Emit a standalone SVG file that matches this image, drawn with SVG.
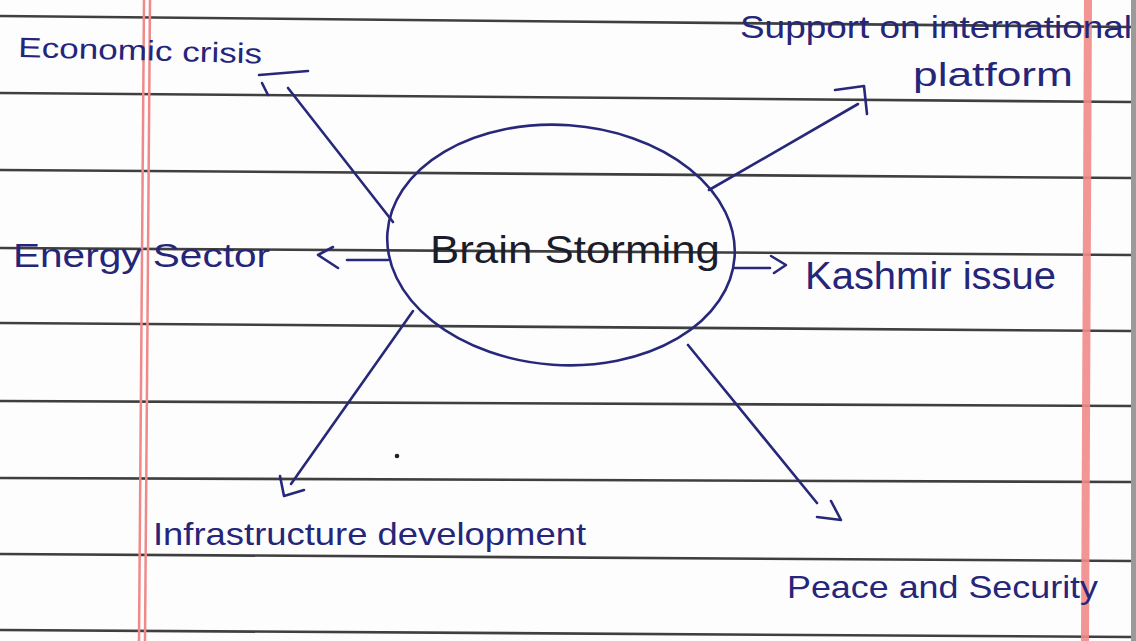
<svg xmlns="http://www.w3.org/2000/svg" width="1136" height="641" viewBox="0 0 1136 641">
<style>
.rule{stroke:#3f3f3f;stroke-width:2.6;fill:none}
.margin{stroke:#f08a8a;fill:none}
.ink{stroke:#28287a;stroke-width:2.6;fill:none;stroke-linecap:round;stroke-linejoin:round}
.lbl{font-family:"Liberation Sans","DejaVu Sans",sans-serif;fill:#25257a}
.center{font-family:"Liberation Sans","DejaVu Sans",sans-serif;fill:#1c1c2a}
</style>
<rect width="1136" height="641" fill="#fdfdfd"/>
<g id="paper">
<line class="rule" x1="0" y1="16" x2="1132" y2="27"/>
<line class="rule" x1="0" y1="93" x2="1132" y2="102"/>
<line class="rule" x1="0" y1="170" x2="1132" y2="178"/>
<line class="rule" x1="0" y1="248" x2="1132" y2="255"/>
<line class="rule" x1="0" y1="323" x2="1132" y2="331"/>
<line class="rule" x1="0" y1="401" x2="1132" y2="406"/>
<line class="rule" x1="0" y1="478" x2="1132" y2="482"/>
<line class="rule" x1="0" y1="554" x2="1132" y2="561"/>
<line class="rule" x1="0" y1="630" x2="1132" y2="637"/>
<line class="margin" x1="144" y1="0" x2="139" y2="641" stroke-width="2.5"/>
<line class="margin" x1="150" y1="0" x2="145" y2="641" stroke-width="2.5"/>
<line class="margin" x1="1088" y1="0" x2="1085" y2="641" stroke-width="8" opacity="0.9"/>
<rect x="1131" y="0" width="5" height="641" fill="#9a9a9a"/>
<circle cx="397" cy="456" r="2.3" fill="#222"/>
</g>
<g id="connectors">
<line class="ink" x1="393" y1="222" x2="288" y2="88"/>
<path class="ink" d="M259,75 L308,71 M262,83 L268,95"/>
<line class="ink" x1="709" y1="190" x2="858" y2="104"/>
<path class="ink" d="M835,90 L864,86 L867,114"/>
<line class="ink" x1="388" y1="260" x2="347" y2="260"/>
<polyline class="ink" points="333,247 318,255 338,268"/>
<line class="ink" x1="735" y1="268" x2="770" y2="268"/>
<polyline class="ink" points="771,256 786,265 774,273"/>
<line class="ink" x1="413" y1="311" x2="291" y2="484"/>
<polyline class="ink" points="280,476 284,496 304,490"/>
<line class="ink" x1="688" y1="345" x2="817" y2="503"/>
<polyline class="ink" points="831,501 841,520 817,517"/>
</g>
<g id="brain-storming">
<ellipse class="ink" cx="561" cy="245" rx="174" ry="120" transform="rotate(4 561 245)"/>
<text class="center" x="430" y="263" font-size="38" textLength="290" lengthAdjust="spacingAndGlyphs">Brain Storming</text>
</g>
<g id="economic-crisis">
<text class="lbl" x="18" y="57" font-size="28" textLength="244" lengthAdjust="spacingAndGlyphs" transform="rotate(1.5 18 57)">Economic crisis</text>
</g>
<g id="support">
<text class="lbl" x="740" y="38" font-size="32" textLength="392" lengthAdjust="spacingAndGlyphs">Support on international</text>
<text class="lbl" x="913" y="86" font-size="34" textLength="160" lengthAdjust="spacingAndGlyphs">platform</text>
</g>
<g id="energy-sector">
<text class="lbl" x="13" y="267" font-size="34" textLength="257" lengthAdjust="spacingAndGlyphs">Energy Sector</text>
</g>
<g id="kashmir-issue">
<text class="lbl" x="805" y="289" font-size="38" textLength="251" lengthAdjust="spacingAndGlyphs">Kashmir issue</text>
</g>
<g id="infrastructure">
<text class="lbl" x="153" y="545" font-size="32" textLength="433" lengthAdjust="spacingAndGlyphs">Infrastructure development</text>
</g>
<g id="peace-security">
<text class="lbl" x="787" y="598" font-size="32" textLength="311" lengthAdjust="spacingAndGlyphs">Peace and Security</text>
</g>
</svg>
